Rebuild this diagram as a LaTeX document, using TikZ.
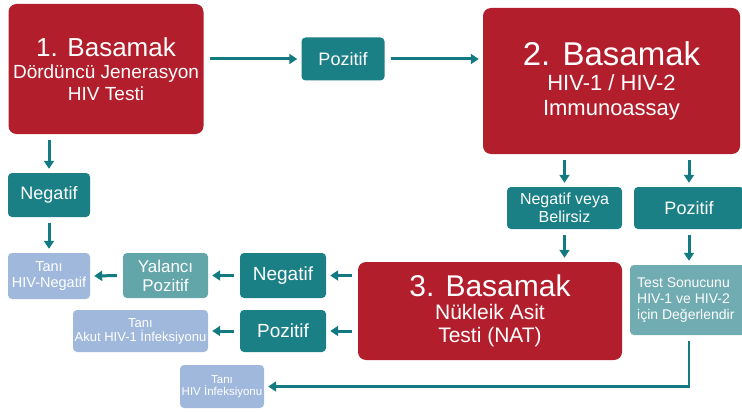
\documentclass[tikz,border=0pt]{standalone}
\usepackage{fontspec}
\setmainfont{Liberation Sans}
\usetikzlibrary{arrows.meta}
\definecolor{redbox}{RGB}{178,30,44}
\definecolor{tealbox}{RGB}{26,128,134}
\definecolor{tealarrow}{RGB}{18,122,128}
\definecolor{paleteal}{RGB}{98,166,170}
\definecolor{lightteal}{RGB}{112,172,178}
\definecolor{paleblue}{RGB}{160,184,220}
\begin{document}
\begin{tikzpicture}[x=1pt,y=-1pt,
  bigbox/.style={fill=redbox, text=white, rounded corners=8pt, align=center, inner sep=0pt},
  tbox/.style={fill=tealbox, text=white, rounded corners=4pt, align=center, inner sep=0pt},
  ybox/.style={fill=paleteal, text=white, rounded corners=4pt, align=center, inner sep=0pt},
  dbox/.style={fill=paleblue, text=white, rounded corners=4pt, align=center, inner sep=0pt},
  arr/.style={draw=tealarrow, line width=3pt, shorten <=6pt, shorten >=4pt,
    -{Triangle[length=8pt,width=10pt]}}]
\useasboundingbox (0,0) rectangle (742,412);
\clip (0,0) rectangle (742,412);
% step boxes
\node[bigbox, minimum width=195pt, minimum height=130pt,
  font=\fontsize{19}{22}\selectfont] (s1) at (106,69)
  {{\fontsize{26}{28}\selectfont 1. Basamak}\\Dördüncü Jenerasyon\\HIV Testi};
\node[bigbox, minimum width=257pt, minimum height=146pt,
  font=\fontsize{22}{25}\selectfont] (s2) at (611.5,81)
  {{\fontsize{33}{36}\selectfont 2. Basamak}\\HIV-1 / HIV-2\\Immunoassay};
\node[bigbox, minimum width=264pt, minimum height=98pt,
  font=\fontsize{21}{23}\selectfont] (s3) at (490,311)
  {{\fontsize{30}{32}\selectfont 3. Basamak}\\Nükleik Asit\\Testi (NAT)};
% teal boxes
\node[tbox, minimum width=83pt, minimum height=43pt, font=\fontsize{18}{20}\selectfont] (p1) at (343,59) {Pozitif};
\node[tbox, minimum width=82pt, minimum height=44pt, font=\fontsize{18}{20}\selectfont] (n1) at (49,195) {Negatif};
\node[tbox, minimum width=115pt, minimum height=42pt, font=\fontsize{16}{18}\selectfont] (nb) at (564.5,208) {Negatif veya\\Belirsiz};
\node[tbox, minimum width=110pt, minimum height=42pt, font=\fontsize{18}{20}\selectfont] (p2) at (689,208) {Pozitif};
\node[tbox, minimum width=86pt, minimum height=45pt, font=\fontsize{19}{21}\selectfont] (n2) at (283,275.5) {Negatif};
\node[tbox, minimum width=86pt, minimum height=42pt, font=\fontsize{19}{21}\selectfont] (p3) at (283,331) {Pozitif};
\node[ybox, minimum width=85pt, minimum height=45pt, font=\fontsize{17}{19}\selectfont] (y) at (165.5,275.5) {Yalancı\\Pozitif};
% result boxes
\node[dbox, minimum width=82pt, minimum height=46pt, font=\fontsize{14.5}{15.5}\selectfont] (tn) at (49,276) {Tanı\\HIV-Negatif};
\node[dbox, minimum width=135pt, minimum height=42pt, font=\fontsize{13}{14}\selectfont] (ta) at (140.5,331) {Tanı\\Akut HIV-1 İnfeksiyonu};
\node[dbox, minimum width=84pt, minimum height=43pt, font=\fontsize{11.5}{12.5}\selectfont] (hi) at (222,386.5) {Tanı\\HIV İnfeksiyonu};
\node[fill=lightteal, text=white, rounded corners=4pt, inner sep=0pt,
  minimum width=125pt, minimum height=70pt] (t) at (692.5,300) {};
\node[anchor=west, align=left, text=white, inner sep=0pt,
  font=\fontsize{14}{16}\selectfont] (tt) at (637,300)
  {Test Sonucunu\\HIV-1 ve HIV-2\\için Değerlendir};
% connectors
\draw[arr] (s1.east |- p1.west) -- (p1.west);
\draw[arr] (p1.east) -- (p1.east -| s2.west);
\draw[arr] (n1.north |- s1.south) -- (n1.north);
\draw[arr] (n1.south) -- (tn.north);
\draw[arr] (nb.north |- s2.south) -- (nb.north);
\draw[arr] (p2.north |- s2.south) -- (p2.north);
\draw[arr] (nb.south) -- (nb.south |- s3.north);
\draw[arr] (p2.south) -- (p2.south |- t.north);
\draw[arr] (s3.west |- n2.east) -- (n2.east);
\draw[arr] (s3.west |- p3.east) -- (p3.east);
\draw[arr] (n2.west) -- (y.east);
\draw[arr] (y.west) -- (tn.east);
\draw[arr] (p3.west) -- (ta.east);
\draw[arr, line width=2.5pt] (p2.south |- t.south) -- (p2.south |- hi.east) -- (hi.east);
\end{tikzpicture}
\end{document}
